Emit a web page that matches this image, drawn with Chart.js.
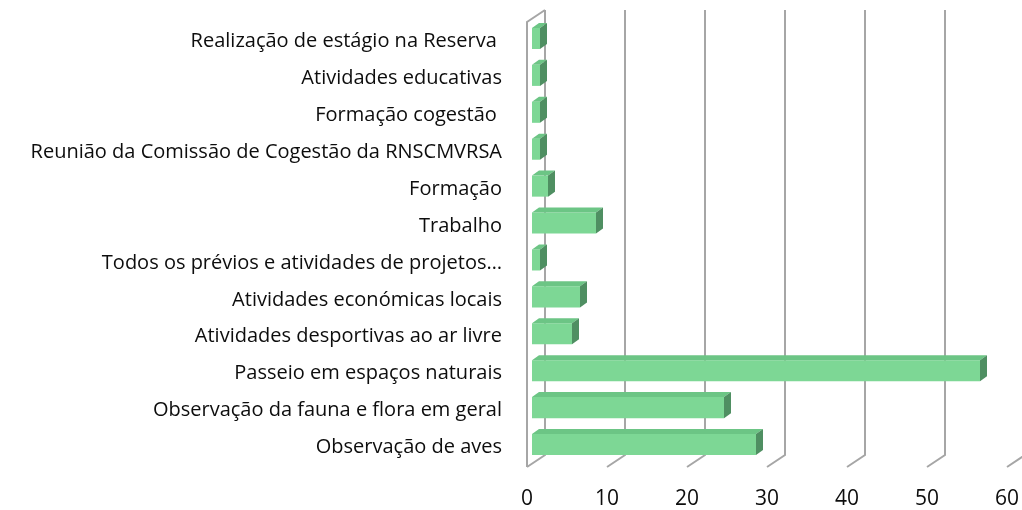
<!DOCTYPE html>
<html>
<head>
<meta charset="utf-8">
<script src="https://cdn.jsdelivr.net/npm/chart.js@4"></script>
<style>
  body { margin: 0; background: #fff; }
  #wrap { width: 1022px; height: 510px; }
</style>
</head>
<body>
<div id="wrap"><canvas id="myChart" width="1022" height="510"></canvas></div>
<script>
const categories = [
  'Realização de estágio na Reserva ',
  'Atividades educativas',
  'Formação cogestão ',
  'Reunião da Comissão de Cogestão da RNSCMVRSA',
  'Formação',
  'Trabalho',
  'Todos os prévios e atividades de projetos…',
  'Atividades económicas locais',
  'Atividades desportivas ao ar livre',
  'Passeio em espaços naturais',
  'Observação da fauna e flora em geral',
  'Observação de aves'
]
const values = [1, 1, 1, 1, 2, 8, 1, 6, 5, 56, 24, 28]
const xTicks = [0, 10, 20, 30, 40, 50, 60]

const FRONT = '#7dd795'
const TOP = '#6cc585'
const SIDE = '#4f8f62'
const GRID = '#a6a6a6'

// wall depth and bar depth (pixels)
const WALL = { dx: 18, dy: -12, shift: -5 }
const BAR = { dx: 7, dy: -5 }

const depth3d = {
  id: 'depth3d',
  beforeDatasetsDraw(chart) {
    const ctx = chart.ctx
    const x = chart.scales.x
    const a = chart.chartArea
    const floorY = a.bottom + 4
    const backBottom = floorY + WALL.dy
    const backTop = a.top - 10
    ctx.save()
    ctx.strokeStyle = GRID
    ctx.lineWidth = 2
    xTicks.forEach(function (v) {
      let fx = x.getPixelForValue(v) + WALL.shift
      let bx = fx + WALL.dx
      ctx.beginPath()
      ctx.moveTo(bx, backTop)
      ctx.lineTo(bx, backBottom)
      ctx.lineTo(fx, floorY)
      ctx.stroke()
    })
    // left side wall outline
    let fx0 = x.getPixelForValue(0) + WALL.shift
    ctx.beginPath()
    ctx.moveTo(fx0, floorY)
    ctx.lineTo(fx0, backTop - WALL.dy)
    ctx.lineTo(fx0 + WALL.dx, backTop)
    ctx.stroke()
    ctx.restore()
  },
  afterDatasetsDraw(chart) {
    const ctx = chart.ctx
    const meta = chart.getDatasetMeta(0)
    ctx.save()
    meta.data.forEach(function (bar) {
      const p = bar.getProps(['x', 'y', 'base', 'height'], true)
      const left = p.base, right = p.x
      const top = p.y - p.height / 2, bottom = p.y + p.height / 2
      // top face
      ctx.fillStyle = TOP
      ctx.beginPath()
      ctx.moveTo(left, top)
      ctx.lineTo(left + BAR.dx, top + BAR.dy)
      ctx.lineTo(right + BAR.dx, top + BAR.dy)
      ctx.lineTo(right, top)
      ctx.closePath()
      ctx.fill()
      // side face
      ctx.fillStyle = SIDE
      ctx.beginPath()
      ctx.moveTo(right, top)
      ctx.lineTo(right + BAR.dx, top + BAR.dy)
      ctx.lineTo(right + BAR.dx, bottom + BAR.dy)
      ctx.lineTo(right, bottom)
      ctx.closePath()
      ctx.fill()
    })
    ctx.restore()
  }
}

const data = {
  labels: categories,
  datasets: [{
    data: values,
    backgroundColor: FRONT,
    borderWidth: 0,
    barPercentage: 0.57,
    categoryPercentage: 1
  }]
}

const config = {
  type: 'bar',
  data: data,
  plugins: [depth3d],
  options: {
    indexAxis: 'y',
    responsive: false,
    animation: false,
    layout: { padding: { top: 20, right: 10, left: 0, bottom: 0 } },
    plugins: {
      legend: { display: false },
      tooltip: { enabled: false }
    },
    scales: {
      x: {
        min: 0,
        max: 60,
        afterBuildTicks(scale) {
          scale.ticks = xTicks.map(v => ({ value: v }))
        },
        afterFit(scale) {
          scale.height = 47
          scale.paddingLeft = 0
          scale.paddingRight = 0
        },
        grid: { display: false, drawTicks: false },
        border: { display: false },
        ticks: {
          padding: 23,
          labelOffset: -5,
          color: '#0d0d0d',
          font: { family: 'Open Sans', size: 21 }
        }
      },
      y: {
        afterFit(scale) {
          scale.width = 532
          scale.paddingTop = 0
          scale.paddingBottom = 0
        },
        grid: { display: false, drawTicks: false },
        border: { display: false },
        ticks: {
          padding: 30,
          labelOffset: 3,
          color: '#0d0d0d',
          font: { family: 'Open Sans', size: 20 }
        }
      }
    }
  }
}

const myChart = new Chart(document.getElementById('myChart'), config)
</script>
</body>
</html>
